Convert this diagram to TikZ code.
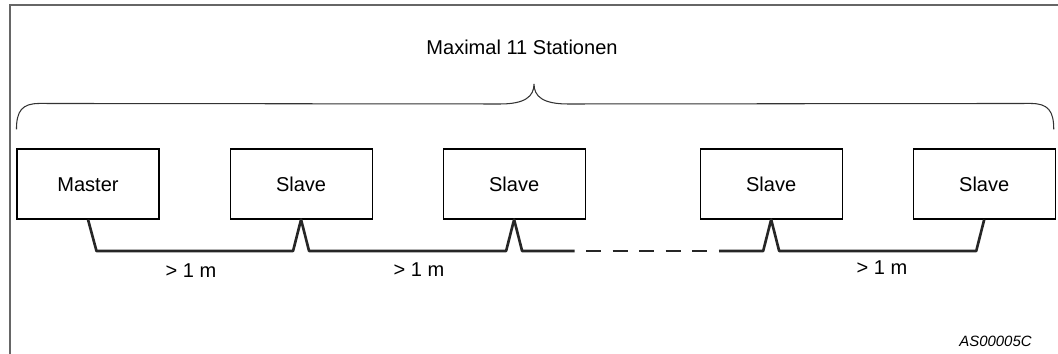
\documentclass[tikz,border=0pt]{standalone}
\usepackage{fontspec}
\setmainfont{Liberation Sans}
\usetikzlibrary{positioning,calc}

\begin{document}
\begin{tikzpicture}[
        stn/.style={draw, line width=0.6pt, minimum width=2.84cm, minimum height=1.4cm,
            inner sep=0pt, text height=1.55ex, text depth=0pt, font=\fontsize{11.4}{13}\selectfont},
        bus/.style={line width=1.5pt, line join=round, color=black!85},
        lbl/.style={font=\fontsize{11.4}{13}\selectfont},
    ]
    \useasboundingbox (0,0) rectangle (21.16,7.08);
    % frame (only top and left edge)
    \draw[line width=0.6pt, black!60] (0.2,0) -- (0.2,6.98) -- (21.16,6.98);

    % stations
    \node[stn] (m) at (1.76,3.4) {Master};
    \node[stn, right=1.4cm of m] (s1) {Slave};
    \node[stn, right=1.4cm of s1] (s2) {Slave};
    \node[stn, right=2.28cm of s2] (s3) {Slave};
    \node[stn, right=1.4cm of s3] (s4) {Slave};

    % brace over all stations
    \draw[line width=0.6pt, black!80] ($(m.north west)+(0,0.38)$) .. controls +(0,0.37) and +(-0.35,0) .. ++(0.46,0.52) coordinate (bl)
        -- (10.0,5.0) .. controls (10.5,5.0) and (10.68,5.15) .. (10.68,5.4) coordinate (tip)
        .. controls (10.68,5.15) and (10.86,5.0) .. (11.36,5.0)
        -- ($(s4.north east)+(-0.5,0.9)$) .. controls +(0.35,0) and +(0,0.37) .. ($(s4.north east)+(-0.04,0.38)$);
    \node[lbl] (title) at (10.44,6.13) {Maximal 11 Stationen};

    % bus cable with taps
    \draw[bus] (m.south) -- ++(0.17,-0.63) -- ($(s1.south)+(-0.16,-0.63)$) -- (s1.south)
        -- ++(0.16,-0.63) -- ($(s2.south)+(-0.16,-0.63)$) -- (s2.south)
        -- ++(0.16,-0.63) -- ++(1.05,0) coordinate (d1);
    \coordinate (d2) at ($(s3.south)+(-1.04,-0.63)$);
    \draw[bus, dash pattern=on 0.3cm off 0.23cm, dash phase=0.3cm] (d1) -- (d2);
    \draw[bus] (d2) -- ($(s3.south)+(-0.16,-0.63)$) -- (s3.south)
        -- ++(0.16,-0.63) -- ($(s4.south)+(-0.16,-0.63)$) -- (s4.south);

    % distances
    \node[lbl] (l1) at (3.82,1.66) {> 1 m};
    \node[lbl] (l2) at (8.38,1.68) {> 1 m};
    \node[lbl] (l3) at (17.64,1.72) {> 1 m};

    \node[font=\fontsize{8.5}{10}\selectfont\itshape] (code) at (19.91,0.26) {AS00005C};
\end{tikzpicture}
\end{document}
